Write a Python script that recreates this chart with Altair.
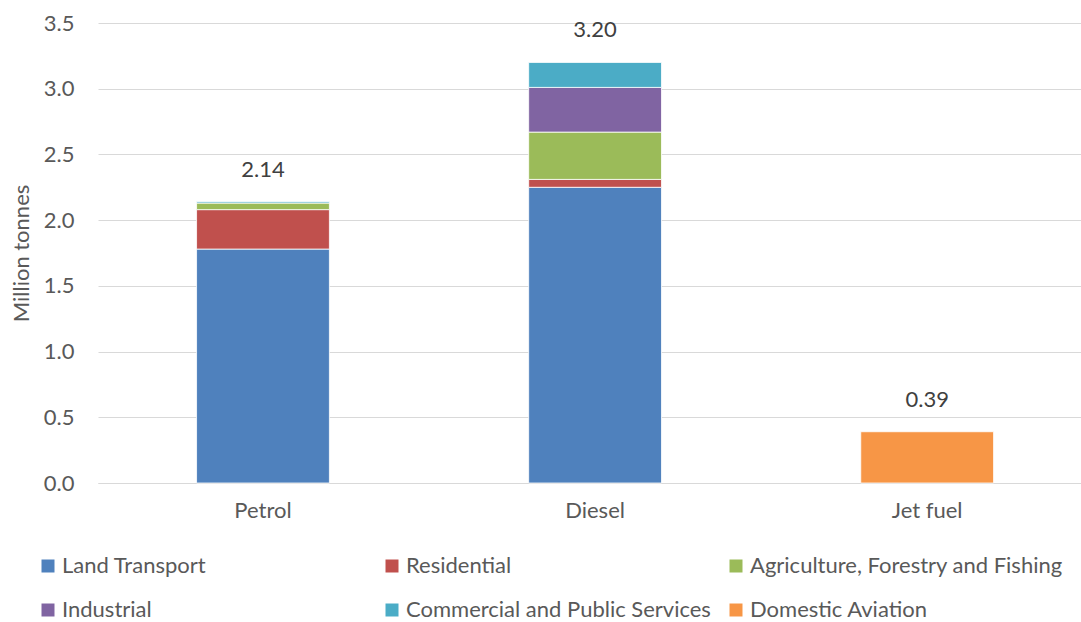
import altair as alt
import pandas as pd

fuels = ["Petrol", "Diesel", "Jet fuel"]
sectors = ["Land Transport", "Residential", "Agriculture, Forestry and Fishing",
           "Industrial", "Commercial and Public Services", "Domestic Aviation"]
colors = ["#4F81BD", "#C0504D", "#9BBB59", "#8064A2", "#4BACC6", "#F79646"]

land_transport = [1.78, 2.25, 0.0]
residential = [0.30, 0.06, 0.0]
agriculture = [0.05, 0.36, 0.0]
industrial = [0.00, 0.34, 0.0]
commercial = [0.01, 0.19, 0.0]
aviation = [0.0, 0.0, 0.39]

series = [land_transport, residential, agriculture, industrial, commercial, aviation]

rows = []
for si, (name, vals) in enumerate(zip(sectors, series)):
    for fuel, v in zip(fuels, vals):
        if v > 0:
            rows.append({"fuel": fuel, "sector": name, "value": v, "idx": si})
df = pd.DataFrame(rows)

FONT = "Lato"
GREY = "#595959"
FS = 22

base = alt.Chart(df)

bars = base.mark_bar(stroke="white", strokeWidth=0.8).encode(
    x=alt.X("fuel:N", sort=fuels, title=None,
            scale=alt.Scale(paddingInner=0.6, paddingOuter=0.28, align=0.53),
            axis=alt.Axis(labelAngle=0, labelFontSize=FS, labelColor=GREY, labelFont=FONT,
                          ticks=False, domainColor="#D9D9D9", domainWidth=1,
                          labelPadding=17, grid=False)),
    y=alt.Y("value:Q", stack="zero", title="Million tonnes",
            scale=alt.Scale(domain=[0, 3.5]),
            axis=alt.Axis(values=[0, 0.5, 1, 1.5, 2, 2.5, 3, 3.5], format=".1f",
                          labelFontSize=FS, labelColor=GREY, labelFont=FONT,
                          titleFontSize=FS, titleColor=GREY, titleFont=FONT,
                          titleFontWeight="normal", titlePadding=10,
                          ticks=False, domain=False, labelPadding=24,
                          gridColor="#D9D9D9", gridWidth=1)),
    color=alt.Color("sector:N", sort=sectors,
                    scale=alt.Scale(domain=sectors, range=colors),
                    legend=alt.Legend(title=None, orient="none", legendX=-61, legendY=532,
                                      direction="horizontal", columns=3, gridAlign="all",
                                      symbolType="square", symbolSize=169, symbolStrokeWidth=0,
                                      labelFontSize=FS, labelColor=GREY, labelFont=FONT,
                                      labelOffset=3, columnPadding=6, rowPadding=22,
                                      labelLimit=400)),
    order=alt.Order("idx:Q", sort="ascending"),
)

labels = base.transform_aggregate(
    total="sum(value)", groupby=["fuel"]
).mark_text(fontSize=FS, color="#404040", font=FONT, baseline="alphabetic", dy=-25).encode(
    x=alt.X("fuel:N", sort=fuels),
    y=alt.Y("total:Q"),
    text=alt.Text("total:Q", format=".2f"),
)

chart = alt.layer(bars, labels).properties(
    width=983, height=460,
    autosize=alt.AutoSizeParams(type="none"),
    padding={"left": 98, "top": 23, "right": 0, "bottom": 139},
    background="white",
).configure_view(stroke=None)

chart.save("out.html", embed_options={"renderer": "svg", "actions": False})
